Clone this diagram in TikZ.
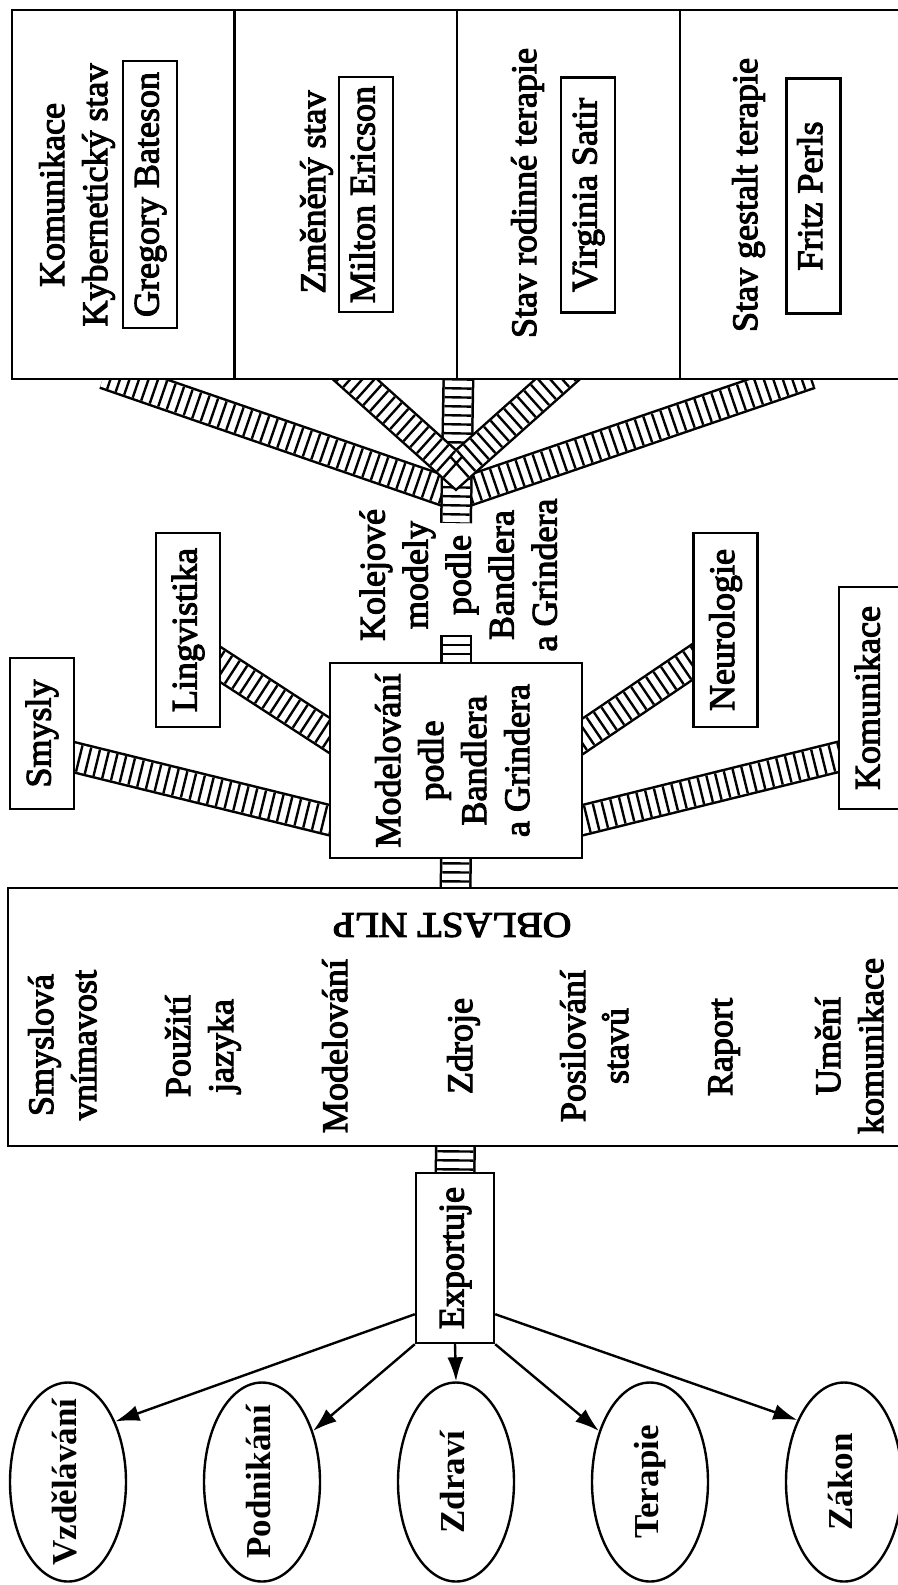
\documentclass[tikz,border=0pt]{standalone}
\usepackage{fontspec}
\setmainfont{Liberation Serif}[UprightFeatures={FakeBold=3}]
\usepackage{graphicx}
\usetikzlibrary{calc,shapes.geometric,arrows.meta}
\pgfdeclarelayer{rails}
\pgfsetlayers{rails,main}

% text set upright along the page's vertical, read from bottom to top
\newcommand\vtext[1]{\rotatebox{90}{\begin{tabular}{@{}c@{}}#1\end{tabular}}}

\begin{document}
\begin{tikzpicture}[x=1pt,y=-1pt,
  every node/.style={font=\fontsize{36}{43}\selectfont, inner sep=0pt},
  frame/.style={draw, line width=2.4pt, fill=white, inner sep=0pt},
  cell/.style={frame, minimum width=223pt, minimum height=369pt},
  namebox/.style={frame, minimum width=54pt, minimum height=235pt},
  leaf/.style={frame, minimum width=64pt},
  goal/.style={ellipse, draw, line width=2.4pt, fill=white, minimum width=116pt,
    minimum height=199pt, inner sep=0pt},
  goaltext/.style={font=\fontsize{35}{43}\selectfont\bfseries},
  arr/.style={line width=2.4pt, -{Latex[length=24pt,width=16pt]}},
  railedge/.style={line width=32pt, draw=black},
  railbed/.style={line width=27pt, draw=white},
  railties/.style={line width=27pt, draw=black, dash pattern=on 2.4pt off 6.6pt},
  wrailedge/.style={line width=41pt, draw=black},
  wrailbed/.style={line width=36pt, draw=white},
  wrailties/.style={line width=36pt, draw=black, dash pattern=on 2.4pt off 6.6pt},
]
\newcommand\rail[2][0pt]{\draw[railedge] #2; \draw[railbed] #2; \draw[railties, dash phase=#1] #2;}
\newcommand\wrail[1]{\draw[wrailedge] #1; \draw[wrailbed] #1; \draw[wrailties] #1;}

\useasboundingbox (0,0) rectangle (897,1585);

% ---- states and their founders
\node[cell] (c1) at (123.5,194.5) {};
\node[cell] (c2) at (346,194.5) {};
\node[cell] (c3) at (568.5,194.5) {};
\node[cell] (c4) at (791.5,194.5) {};
\node (t1) at (77,195) {\vtext{Komunikace\\Kybernetický stav}};
\node (t2) at (316.5,192) {\vtext{Změněný stav}};
\node (t3) at (527.5,193) {\vtext{Stav rodinné terapie}};
\node (t4) at (748.5,195) {\vtext{Stav gestalt terapie}};
\node[namebox, minimum height=267pt] (gb) at (150,194.5) {\vtext{Gregory Bateson}};
\node[namebox] (me) at (366,194.5) {\vtext{Milton Ericson}};
\node[namebox] (vs) at (588,195) {\vtext{Virginia Satir}};
\node[namebox] (fp) at (813.5,196) {\vtext{Fritz Perls}};

% ---- modelling and its sources
\node (kol) at (462,575) {\vtext{Kolejové\\modely\\podle\\Bandlera\\a Grindera}};
\node[frame, minimum width=252pt, minimum height=195pt] (mod) at (456,760.5)
  {\vtext{Modelování\\podle\\Bandlera\\a Grindera}};
\node[leaf, minimum height=151pt] (sm) at (42,733.5) {\vtext{Smysly}};
\node[leaf, minimum height=194pt] (li) at (188,630) {\vtext{Lingvistika}};
\node[leaf, minimum height=194pt] (ne) at (725.5,630) {\vtext{Neurologie}};
\node[leaf, minimum height=222pt] (ko) at (871,698) {\vtext{Komunikace}};

% ---- field of NLP
\node[frame, minimum width=895pt, minimum height=258pt] (nlp) at (455.5,1017) {};
\node[rotate=180] (ob) at (452,925) {\scalebox{1.1}[1]{OBLAST NLP}};
\node (i1) at (66,1045) {\vtext{Smyslová\\vnímavost}};
\node (i2) at (203,1046) {\vtext{Použití\\jazyka}};
\node (i3) at (338.5,1046) {\vtext{Modelování}};
\node (i4) at (463.5,1046) {\vtext{Zdroje}};
\node (i5) at (598,1046) {\vtext{Posilování\\stavů}};
\node (i6) at (723.5,1047) {\vtext{Raport}};
\node (i7) at (853,1046) {\vtext{Umění\\komunikace}};

% ---- export
\node[frame, minimum width=78pt, minimum height=170pt] (exp) at (455,1258) {\vtext{Exportuje}};
\node[goal, label={[goaltext]center:\vtext{Vzdělávání}}] (e1) at (68,1482) {};
\node[goal, label={[goaltext]center:\vtext{Podnikání}}] (e2) at (262,1482) {};
\node[goal, label={[goaltext]center:\vtext{Zdraví}}] (e3) at (456,1482) {};
\node[goal, label={[goaltext]center:\vtext{Terapie}}] (e4) at (650,1482) {};
\node[goal, label={[goaltext]center:\vtext{Zákon}}] (e5) at (844,1482) {};

\draw[arr] ([yshift=30pt]exp.south west) -- (e1.52);
\draw[arr] (exp.south west) -- (e2.45);
\draw[arr] (exp.south) -- (e3.north);
\draw[arr] (exp.south east) -- (e4.135);
\draw[arr] ([yshift=30pt]exp.south east) -- (e5.127);

% ---- rail-track connectors
\coordinate (jo) at (456,495);
\coordinate (ji) at (456,470);
\coordinate (kt) at (456,523);
\coordinate (kb) at (456,635);
\coordinate (smA) at ([yshift=-24pt]sm.east);
\coordinate (smB) at ([yshift=-59.5pt]mod.west);
\coordinate (liA) at ([yshift=-35pt]li.east);
\coordinate (liB) at ([yshift=25.5pt]mod.west);
\coordinate (neA) at ([yshift=24.5pt]mod.east);
\coordinate (neB) at ([yshift=-32pt]ne.west);
\coordinate (koA) at ([yshift=-59.5pt]mod.east);
\coordinate (koB) at ([yshift=-59pt]ko.west);
\coordinate (c2r) at ([xshift=10pt]c2.south);
\coordinate (c3l) at ([xshift=-12pt]c3.south);

\begin{pgfonlayer}{rails}
  \rail[2.8pt]{($(c1.south)!-20pt!(jo)$) -- (jo) -- ($(c4.south)!-20pt!(jo)$)}
  \rail{([yshift=20pt]c2.south east) -- (kt)}
  \rail[4.1pt]{($(c2r)!-20pt!(ji)$) -- (ji) -- ($(c3l)!-20pt!(ji)$)}
  \rail{(kb) -- ([yshift=-15pt]mod.north)}
  \rail{($(smA)!-15pt!(smB)$) -- ($(smB)!-15pt!(smA)$)}
  \rail{($(liA)!-15pt!(liB)$) -- ($(liB)!-15pt!(liA)$)}
  \rail{($(neA)!-15pt!(neB)$) -- ($(neB)!-15pt!(neA)$)}
  \rail{($(koA)!-15pt!(koB)$) -- ($(koB)!-15pt!(koA)$)}
  \rail{([yshift=15pt]mod.south) -- ([yshift=-15pt]nlp.north)}
  \wrail{([yshift=15pt]nlp.south) -- ([yshift=-15pt]exp.north)}
\end{pgfonlayer}
\end{tikzpicture}
\end{document}
